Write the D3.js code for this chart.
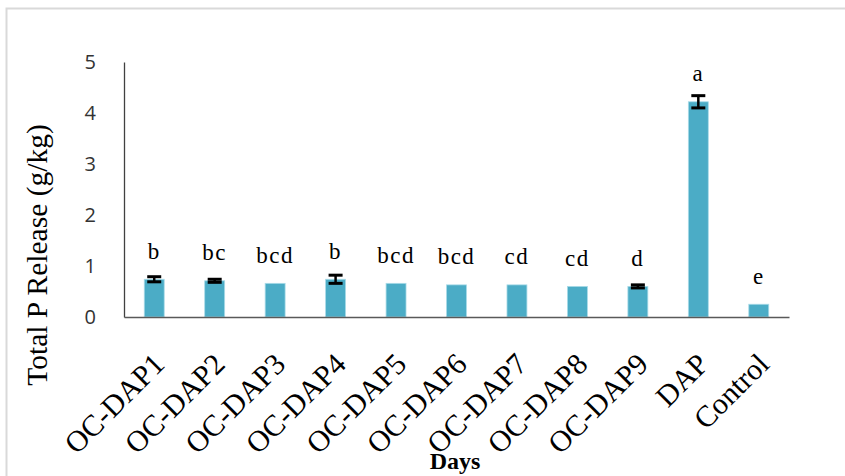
<!DOCTYPE html>
<html>
<head>
<meta charset="utf-8">
<script src="https://cdn.jsdelivr.net/npm/d3@7/dist/d3.min.js"></script>
<style>
  html, body { margin: 0; padding: 0; background: #fff; }
  svg { display: block; }
</style>
</head>
<body>
<svg id="chart" width="845" height="476"></svg>
<script>
// ---- data ----
const categories = ["OC-DAP1","OC-DAP2","OC-DAP3","OC-DAP4","OC-DAP5","OC-DAP6","OC-DAP7","OC-DAP8","OC-DAP9","DAP","Control"];
const values     = [0.74, 0.71, 0.66, 0.74, 0.66, 0.63, 0.63, 0.60, 0.60, 4.22, 0.25];
const errors     = [0.05, 0.03, 0.00, 0.08, 0.00, 0.00, 0.00, 0.00, 0.03, 0.12, 0.00];
const letters    = ["b","bc","bcd","b","bcd","bcd","cd","cd","d","a","e"];
const yTicks     = [0, 1, 2, 3, 4, 5];

// ---- layout ----
const svg = d3.select("#chart");
const plot = { left: 124, right: 789, top: 62, bottom: 317 };

// outer frame
svg.append("rect")
  .attr("x", 6.5).attr("y", 8.5)
  .attr("width", 860).attr("height", 480)
  .attr("fill", "#fff")
  .attr("stroke", "#d9d9d9")
  .attr("stroke-width", 2);

const x = d3.scaleBand().domain(categories).range([plot.left, plot.right]).paddingInner(0.67).paddingOuter(0.335);
const y = d3.scaleLinear().domain([0, 5]).range([plot.bottom, plot.top]);

// bars
svg.append("g").selectAll("rect").data(categories).join("rect")
  .attr("x", d => x(d))
  .attr("y", (d, i) => y(values[i]))
  .attr("width", x.bandwidth())
  .attr("height", (d, i) => y(0) - y(values[i]))
  .attr("fill", "#4bacc6")
  .attr("stroke", "#a9dbe8")
  .attr("stroke-width", 0.8);

// error bars
const eg = svg.append("g").attr("stroke", "#000");
categories.forEach((c, i) => {
  if (errors[i] <= 0) return;
  const cx = x(c) + x.bandwidth() / 2;
  const y1 = y(values[i] + errors[i]), y2 = y(values[i] - errors[i]);
  eg.append("line").attr("x1", cx).attr("x2", cx).attr("y1", y1).attr("y2", y2).attr("stroke-width", 2.5);
  [y1, y2].forEach(yy => eg.append("line")
    .attr("x1", cx - 7).attr("x2", cx + 7).attr("y1", yy).attr("y2", yy).attr("stroke-width", 3));
});

// significance letters
svg.append("g").selectAll("text").data(categories).join("text")
  .attr("x", d => x(d) + x.bandwidth() / 2)
  .attr("y", (d, i) => y(values[i]) - 20.5)
  .attr("text-anchor", "middle")
  .attr("font-family", "'Liberation Serif', 'Times New Roman', serif")
  .attr("font-size", 23)
  .attr("letter-spacing", 1.5)
  .attr("fill", "#000")
  .text((d, i) => letters[i]);

// y axis
const yAxis = d3.axisLeft(y).tickValues(yTicks).tickSize(0).tickPadding(28).tickFormat(d3.format("d"));
const ya = svg.append("g").attr("transform", `translate(${plot.left},0)`).call(yAxis);
ya.select(".domain").attr("stroke", "#404040").attr("stroke-width", 1.3);
ya.selectAll("text")
  .attr("font-family", "'Open Sans', 'Liberation Sans', sans-serif")
  .attr("font-size", 20)
  .attr("fill", "#333");

// x axis
const xAxis = d3.axisBottom(x).tickSize(0).tickPadding(0);
const xa = svg.append("g").attr("transform", `translate(0,${plot.bottom})`).call(xAxis);
xa.select(".domain").attr("stroke", "#595959").attr("stroke-width", 1.5);
xa.selectAll("text")
  .attr("font-family", "'Liberation Serif', 'Times New Roman', serif")
  .attr("font-size", 30)
  .attr("fill", "#000")
  .attr("text-anchor", "end")
  .attr("dy", 0)
  .attr("y", 0)
  .attr("transform", "translate(12,49) rotate(-45)");

// axis titles
svg.append("text")
  .attr("transform", "translate(47,255) rotate(-90)")
  .attr("text-anchor", "middle")
  .attr("font-family", "'Liberation Serif', 'Times New Roman', serif")
  .attr("font-size", 29.5)
  .attr("fill", "#000")
  .text("Total P Release (g/kg)");

svg.append("text")
  .attr("x", 455).attr("y", 469)
  .attr("text-anchor", "middle")
  .attr("font-family", "'Liberation Serif', 'Times New Roman', serif")
  .attr("font-weight", "bold")
  .attr("font-size", 24)
  .attr("fill", "#000")
  .text("Days");
</script>
</body>
</html>
